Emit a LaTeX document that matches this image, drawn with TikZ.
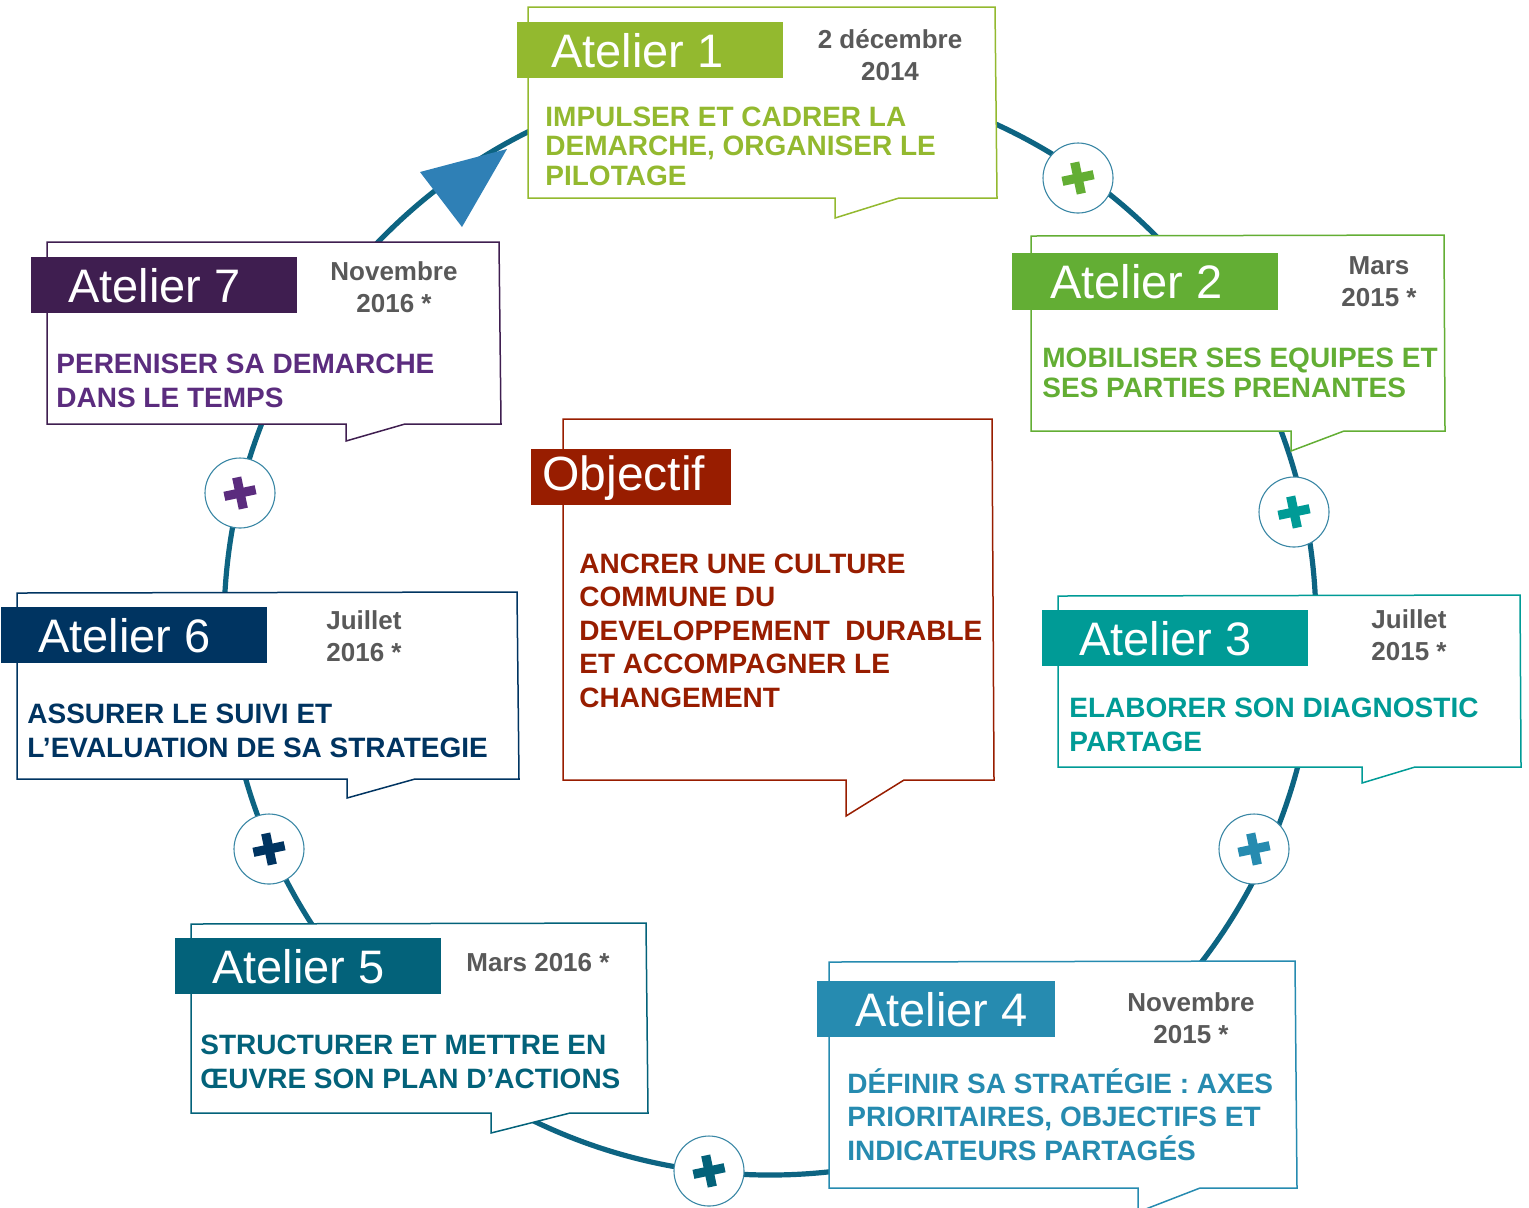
\documentclass[tikz,border=0pt]{standalone}
\usepackage{fontspec}
\setmainfont{Liberation Sans}
\definecolor{ringc}{HTML}{0D6482}
\definecolor{arrowc}{HTML}{2F80B6}
\definecolor{circc}{HTML}{3A87A5}
\definecolor{cA}{HTML}{93B92F}
\definecolor{cB}{HTML}{63AE34}
\definecolor{cC}{HTML}{009B96}
\definecolor{cD}{HTML}{268BB0}
\definecolor{cE}{HTML}{03627A}
\definecolor{cF}{HTML}{003461}
\definecolor{cG}{HTML}{3F1E50}
\definecolor{cGt}{HTML}{5B2C7E}
\definecolor{cObj}{HTML}{981D00}
\definecolor{grayd}{HTML}{595959}
\tikzset{
  ring/.style={draw=ringc, line width=2.6pt},
  callout/.style={fill=white, line width=0.75pt, line join=miter},
  plusnode/.style={circle, draw=circc, fill=white, line width=0.55pt, minimum size=35pt, inner sep=0pt},
  plusarm/.style={line width=4.6pt, line cap=butt},
  titletext/.style={text=white, font=\fontsize{23.5}{28}\selectfont, anchor=base west, inner sep=0pt},
  bodytext/.style={font=\bfseries\fontsize{14}{17}\selectfont, anchor=base west, inner sep=0pt, align=left},
  datetext/.style={font=\bfseries\fontsize{13}{16}\selectfont, text=grayd, anchor=base, inner sep=0pt, align=center}
}
\newcommand\plusmark[2]{%
  \draw[plusarm,#2] ([shift={(-15.6,3.3)}]#1.center) -- ([shift={(15.6,-3.3)}]#1.center);
  \draw[plusarm,#2] ([shift={(-3.3,-15.6)}]#1.center) -- ([shift={(3.3,15.6)}]#1.center);}
\begin{document}
\begin{tikzpicture}[x=0.5pt,y=-0.5pt]
\useasboundingbox (0,0) rectangle (1529,1207);
% ring
\coordinate (ringcenter) at (770,625);
\draw[ring] (ringcenter) ellipse [x radius=546, y radius=550];
% arrow head
\fill[arrowc] (420,172) -- (507,149) -- (462,227) -- cycle;
% plus circles
\node[plusnode] (p12) at (1078,178) {};
\node[plusnode] (p23) at (1294,512) {};
\node[plusnode] (p34) at (1254,849) {};
\node[plusnode] (p45) at (709,1171) {};
\node[plusnode] (p56) at (269,849) {};
\node[plusnode] (p67) at (240,493) {};
\plusmark{p12}{cB}
\plusmark{p23}{cC}
\plusmark{p34}{cD}
\plusmark{p45}{cE}
\plusmark{p56}{cF}
\plusmark{p67}{cGt}
% (multi-line nodes: base anchor = baseline of the last line)
% ---------- Atelier 1
\draw[callout,draw=cA] (528,7) -- (995,7) -- (997,198) -- (899,198) -- (835,218) -- (835,198) -- (528,198) -- cycle;
\fill[cA] (517,22) rectangle (783,78);
\node[titletext] (t1) at (551,67) {Atelier 1};
\node[datetext] (d1) at (890,80) {2 décembre\\2014};
\node[bodytext,text=cA,font=\bfseries\fontsize{14}{14.75}\selectfont] (b1) at (545,185) {IMPULSER ET CADRER LA\\DEMARCHE, ORGANISER LE\\PILOTAGE};
% ---------- Atelier 2
\draw[callout,draw=cB] (1031,236) -- (1444,235) -- (1445,431) -- (1344,431) -- (1291,451) -- (1291,431) -- (1031,431) -- cycle;
\fill[cB] (1012,253) rectangle (1278,310);
\node[titletext] (t2) at (1050,298) {Atelier 2};
\node[datetext] (d2) at (1379,306) {Mars\\2015 *};
\node[bodytext,text=cB,font=\bfseries\fontsize{14}{14.75}\selectfont] (b2) at (1042,397) {MOBILISER SES EQUIPES ET\\SES PARTIES PRENANTES};
% ---------- Atelier 3
\draw[callout,draw=cC] (1058,596) -- (1520,595) -- (1521,767) -- (1415,767) -- (1362,783) -- (1362,767) -- (1058,767) -- cycle;
\fill[cC] (1042,610) rectangle (1308,666);
\node[titletext] (t3) at (1079,655) {Atelier 3};
\node[datetext] (d3) at (1409,660) {Juillet\\2015 *};
\node[bodytext,text=cC] (b3) at (1069,751) {ELABORER SON DIAGNOSTIC\\PARTAGE};
% ---------- Atelier 4
\draw[callout,draw=cD] (829,962) -- (1295,961) -- (1297,1188) -- (1200,1188) -- (1138,1212) -- (1138,1188) -- (829,1188) -- cycle;
\fill[cD] (817,981) rectangle (1055,1037);
\node[titletext] (t4) at (855,1026) {Atelier 4};
\node[datetext] (d4) at (1191,1043) {Novembre\\2015 *};
\node[bodytext,text=cD,font=\bfseries\fontsize{14}{16.75}\selectfont] (b4) at (847,1160) {DÉFINIR SA STRATÉGIE : AXES\\PRIORITAIRES, OBJECTIFS ET\\INDICATEURS PARTAGÉS};
% ---------- Atelier 5
\draw[callout,draw=cE] (191,924) -- (646,923) -- (648,1113) -- (570,1113) -- (491,1133) -- (491,1113) -- (191,1113) -- cycle;
\fill[cE] (175,938) rectangle (441,994);
\node[titletext] (t5) at (212,983) {Atelier 5};
\node[datetext,anchor=base west] (d5) at (466,971) {Mars 2016 *};
\node[bodytext,text=cE] (b5) at (200,1088) {STRUCTURER ET METTRE EN\\ŒUVRE SON PLAN D’ACTIONS};
% ---------- Atelier 6
\draw[callout,draw=cF] (17,593) -- (517,592) -- (519,779) -- (415,779) -- (347,798) -- (347,779) -- (17,779) -- cycle;
\fill[cF] (1,607) rectangle (267,663);
\node[titletext] (t6) at (38,652) {Atelier 6};
\node[datetext,anchor=base west,align=left] (d6) at (326,661) {Juillet\\2016 *};
\node[bodytext,text=cF] (b6) at (27,757) {ASSURER LE SUIVI ET\\L’EVALUATION DE SA STRATEGIE};
% ---------- Atelier 7
\draw[callout,draw=cG] (47,242) -- (499,242) -- (501,424) -- (405,424) -- (346,441) -- (346,424) -- (47,424) -- cycle;
\fill[cG] (31,257) rectangle (297,313);
\node[titletext] (t7) at (68,302) {Atelier 7};
\node[datetext] (d7) at (394,312) {Novembre\\2016 *};
\node[bodytext,text=cGt] (b7) at (56,407) {PERENISER SA DEMARCHE\\DANS LE TEMPS};
% ---------- Objectif
\draw[callout,draw=cObj] (563,419) -- (992,419) -- (994,780) -- (904,780) -- (846,816) -- (846,780) -- (563,780) -- cycle;
\fill[cObj] (531,449) rectangle (731,505);
\node[titletext,font=\fontsize{24}{28}\selectfont] (tobj) at (542,490) {Objectif};
\node[bodytext,text=cObj,font=\bfseries\fontsize{14}{16.75}\selectfont] (bobj) at (579,707) {ANCRER UNE CULTURE\\COMMUNE DU\\DEVELOPPEMENT~~DURABLE\\ET ACCOMPAGNER LE\\CHANGEMENT};
\end{tikzpicture}
\end{document}
